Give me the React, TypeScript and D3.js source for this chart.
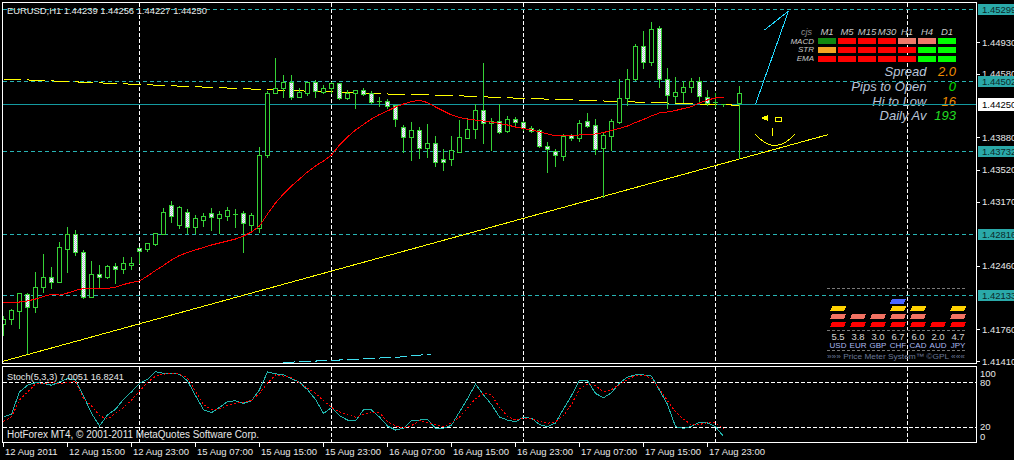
import React from "react";
import * as d3 from "d3";

// ---------- DATA ----------
// H1 candles [open, high, low, close], bar 0 = 12 Aug 2011 07:00
const candles: [number, number, number, number][] = [
  [1.41819, 1.41918, 1.41698, 1.41874],
  [1.41874, 1.41999, 1.41819, 1.41974],
  [1.41966, 1.42175, 1.41778, 1.42164],
  [1.42153, 1.42175, 1.41496, 1.42003],
  [1.42003, 1.42404, 1.41955, 1.42231],
  [1.42231, 1.42602, 1.42175, 1.42334],
  [1.42334, 1.42459, 1.42213, 1.42286],
  [1.42286, 1.42735, 1.42286, 1.42665],
  [1.4265, 1.429, 1.42396, 1.42812],
  [1.42812, 1.42867, 1.4258, 1.42617],
  [1.4261, 1.42643, 1.42103, 1.4212],
  [1.4212, 1.42525, 1.4212, 1.42371],
  [1.42371, 1.42478, 1.42231, 1.42334],
  [1.42341, 1.42481, 1.42327, 1.42459],
  [1.42459, 1.42503, 1.42275, 1.42429],
  [1.42429, 1.42569, 1.42378, 1.42489],
  [1.42473, 1.42569, 1.42423, 1.42489],
  [1.42654, 1.4268, 1.42495, 1.42628],
  [1.42643, 1.42727, 1.42628, 1.42716],
  [1.42702, 1.42823, 1.42691, 1.4282],
  [1.42812, 1.4311, 1.42807, 1.43055],
  [1.43132, 1.43187, 1.42945, 1.43011],
  [1.42911, 1.43132, 1.42878, 1.4311],
  [1.43055, 1.43099, 1.42823, 1.42886],
  [1.42886, 1.43033, 1.42826, 1.42989],
  [1.42967, 1.43055, 1.429, 1.43011],
  [1.43044, 1.4311, 1.42856, 1.43],
  [1.42989, 1.43077, 1.42826, 1.43033],
  [1.43011, 1.4312, 1.42967, 1.43077],
  [1.43016, 1.43099, 1.42893, 1.43033],
  [1.43044, 1.43077, 1.42617, 1.4293],
  [1.42911, 1.43055, 1.42856, 1.43022],
  [1.42878, 1.43783, 1.42834, 1.43684],
  [1.43684, 1.44401, 1.43665, 1.44365],
  [1.44365, 1.44762, 1.44365, 1.44426],
  [1.44426, 1.44578, 1.44327, 1.44493],
  [1.44493, 1.44578, 1.44298, 1.4432],
  [1.4432, 1.44437, 1.4432, 1.44382],
  [1.44371, 1.44493, 1.44346, 1.44486],
  [1.44486, 1.44519, 1.44327, 1.44393],
  [1.44382, 1.44464, 1.44365, 1.4442],
  [1.44426, 1.44504, 1.44365, 1.44475],
  [1.44475, 1.44475, 1.44298, 1.44309],
  [1.44309, 1.44409, 1.44298, 1.44371],
  [1.44365, 1.44401, 1.44206, 1.44401],
  [1.44401, 1.44437, 1.44346, 1.44357],
  [1.44371, 1.44401, 1.44261, 1.44265],
  [1.44274, 1.44335, 1.44224, 1.4428],
  [1.4428, 1.44309, 1.44199, 1.44228],
  [1.44235, 1.44243, 1.44004, 1.44078],
  [1.43989, 1.44023, 1.4372, 1.43879],
  [1.43879, 1.44059, 1.43629, 1.4396],
  [1.4396, 1.44004, 1.43647, 1.43764],
  [1.43764, 1.44034, 1.43665, 1.43813],
  [1.43813, 1.43904, 1.43562, 1.4361],
  [1.4364, 1.43758, 1.43518, 1.43603],
  [1.43636, 1.43904, 1.43573, 1.43739],
  [1.4372, 1.44078, 1.4372, 1.43879],
  [1.43875, 1.44106, 1.43868, 1.43967],
  [1.43967, 1.44254, 1.43875, 1.4418],
  [1.4418, 1.44713, 1.43813, 1.44034],
  [1.44034, 1.441, 1.43739, 1.44062],
  [1.44062, 1.44254, 1.43923, 1.43941],
  [1.43952, 1.44125, 1.43941, 1.44078],
  [1.44078, 1.44114, 1.44015, 1.44051],
  [1.44051, 1.4407, 1.4396, 1.43978],
  [1.43978, 1.44015, 1.43941, 1.43952],
  [1.4396, 1.43978, 1.43775, 1.43786],
  [1.43786, 1.43838, 1.435, 1.43747],
  [1.43731, 1.43758, 1.43562, 1.43684],
  [1.43676, 1.4393, 1.43629, 1.43893],
  [1.43904, 1.4393, 1.43849, 1.43868],
  [1.43868, 1.44078, 1.43842, 1.4404],
  [1.44059, 1.44162, 1.43996, 1.44007],
  [1.44011, 1.44095, 1.43695, 1.43747],
  [1.43758, 1.43941, 1.43224, 1.43904],
  [1.43897, 1.44089, 1.43739, 1.44059],
  [1.44051, 1.4453, 1.44034, 1.44309],
  [1.44309, 1.4464, 1.44235, 1.44519],
  [1.44519, 1.44916, 1.44511, 1.44886],
  [1.44886, 1.45063, 1.4464, 1.44707],
  [1.44707, 1.45162, 1.44677, 1.45071],
  [1.45082, 1.45118, 1.44437, 1.44519],
  [1.44519, 1.44658, 1.44199, 1.44346],
  [1.44338, 1.44555, 1.44272, 1.44376],
  [1.44376, 1.44511, 1.44272, 1.44431],
  [1.44431, 1.44548, 1.44382, 1.44504],
  [1.44504, 1.44555, 1.44283, 1.44338],
  [1.44327, 1.44412, 1.44235, 1.44254],
  [1.44258, 1.44382, 1.44217, 1.44269],
  [1.44239, 1.44256, 1.44227, 1.4425],
];
// projected candle drawn to the right of the last bar [bar, open, high, low, close]
const projected: [number, number, number, number, number] = [92, 1.44261, 1.44456, 1.43647, 1.44365];

// red moving average, one value per bar
const redMA = [
  1.42056, 1.42058, 1.42061, 1.42072, 1.42094, 1.42122, 1.42144, 1.42138, 1.4216, 1.42188,
  1.4221, 1.42212, 1.42212, 1.42212, 1.42223, 1.42254, 1.42276, 1.42293, 1.42348, 1.42409,
  1.42464, 1.42525, 1.42574, 1.42607, 1.42635, 1.42663, 1.4269, 1.42712, 1.42734, 1.42756,
  1.42789, 1.42834, 1.429, 1.43032, 1.43154, 1.43253, 1.43341, 1.43418, 1.43496, 1.43562,
  1.43617, 1.43683, 1.43794, 1.43882, 1.43959, 1.4402, 1.4408, 1.4413, 1.44169, 1.44213,
  1.44246, 1.44273, 1.44285, 1.44262, 1.44213, 1.44169, 1.44125, 1.44097, 1.4408, 1.44069,
  1.44058, 1.44047, 1.44031, 1.44014, 1.43992, 1.43976, 1.43959, 1.43937, 1.43915, 1.43893,
  1.43893, 1.43893, 1.43904, 1.43909, 1.43915, 1.43931, 1.43954, 1.43976, 1.44003, 1.44042,
  1.44075, 1.44114, 1.44147, 1.44158, 1.44174, 1.44196, 1.44218, 1.44257, 1.4429, 1.44312,
  1.4432,
];

// yellow dashed average, vertices [bar, price]
const yellowMA: [number, number][] = [
  [0, 1.44522], [28, 1.44422], [35, 1.44397], [42, 1.44376], [49, 1.44353], [56, 1.4434],
  [63, 1.44314], [70, 1.44294], [77, 1.44273], [84, 1.44254], [92, 1.44232],
];
// yellow trend line [bar, price]
const trendLine: [number, number][] = [[-0.125, 1.41405], [103.125, 1.43909]];
// low cyan dashed line [bar, price]
const cyanLow: [number, number][] = [[35, 1.41394], [42, 1.41421], [49.6, 1.41454], [53.4, 1.41487]];
// cyan arrow drawing [bar, price]
const cyanArrow: [number, number][] = [[94, 1.44243], [98.125, 1.45272]];
const cyanArrowHead: [number, number][] = [[95.125, 1.45062], [98.125, 1.45272]];

// horizontal levels
const levels = [1.45299, 1.44502, 1.43732, 1.42816, 1.42133];
const bid = 1.4425;
const priceTicks = [1.4493, 1.4458, 1.4388, 1.4352, 1.4317, 1.4246, 1.4176, 1.4141];

// stochastic (5,3,3)
const stochK = [
  33, 37, 67, 76, 79.5, 78.6, 76, 80.5, 85, 83.5, 62, 38, 21, 36, 43.5, 57, 67, 78.6, 84, 94.3,
  92, 92, 91, 82, 62, 43, 39, 46, 54, 55, 51.6, 55, 70, 94, 91.5, 90, 85, 80, 70, 57,
  38, 45.7, 35, 29, 28, 42.6, 42.6, 33, 21, 15.5, 17.8, 28, 29, 30, 17.8, 17.8, 22, 40, 58, 77.3,
  63, 50, 33, 29, 26.8, 32.7, 31.4, 23, 20, 25, 44, 62, 83, 82, 65, 59, 66, 79, 87, 90,
  90, 88.5, 69, 50, 20, 17.8, 20.5, 26, 25, 20, 7.0051,
];
const stochD = [
  27, 33.5, 56, 67, 77.7, 78.6, 79.5, 78.6, 79.5, 81.5, 58, 48, 35, 30, 38, 46, 56, 68, 80, 88,
  91, 92, 91, 86, 68, 50, 43, 44, 49, 52, 52.4, 56, 65, 79, 90, 88.5, 86, 79, 72, 65,
  55, 46, 40, 36, 33, 36.5, 40, 38.5, 27, 21, 18, 21.5, 28, 26, 22.5, 20.5, 25, 33, 45, 58,
  65, 63, 46, 34, 29, 31.4, 31.4, 27, 24.6, 26.8, 35, 50, 71, 77.5, 75, 67.5, 70, 77, 84, 89,
  90, 85, 71, 55, 40, 30, 22.5, 23, 25.5, 25, 16.8241,
];
const stochLevels = [100, 80, 20, 0];

const timeLabels = [
  "12 Aug 2011", "12 Aug 15:00", "12 Aug 23:00", "15 Aug 07:00", "15 Aug 15:00", "15 Aug 23:00",
  "16 Aug 07:00", "16 Aug 15:00", "16 Aug 23:00", "17 Aug 07:00", "17 Aug 15:00", "17 Aug 23:00",
];
const timeLabelBars = [0, 8, 16, 24, 32, 40, 48, 56, 64, 72, 80, 88];
const dayBreakBars = [17, 41, 65, 89, 113];

// signal panel
const timeframes = ["M1", "M5", "M15", "M30", "H1", "H4", "D1"];
const signalRows = ["MACD", "STR", "EMA"];
const signalColors = [
  ["#118811", "#ff0000", "#ff0000", "#ff0000", "#f07a6a", "#f07a6a", "#00ff00"],
  ["#f5a524", "#ff0000", "#ff0000", "#ff0000", "#ff0000", "#00ff00", "#00ff00"],
  ["#ff0000", "#ff0000", "#ff0000", "#ff0000", "#ff0000", "#00ff00", "#00ff00"],
];
const infoLabels = ["Spread", "Pips to Open", "Hi to Low", "Daily Av"];
const infoValues = ["2.0", "0", "16", "193"];
const infoColors = ["#f08c00", "#00e000", "#f08c00", "#22dd22"];

// price meter
const currencies = ["USD", "EUR", "GBP", "CHF", "CAD", "AUD", "JPY"];
const strengths = ["5.5", "3.8", "3.0", "6.7", "6.0", "2.0", "4.7"];
const meterBlocks = [3, 2, 2, 4, 3, 1, 3];
const meterRowColors = ["#ff0000", "#f27262", "#ffd200", "#4a66ff"];

const FONT = "'Liberation Sans', Arial, sans-serif";

export default function App() {
  const x = d3.scaleLinear().domain([0, 1]).range([3, 11]);
  const y = d3.scaleLinear().domain([1.4141, 1.4493]).range([361, 42]);
  const ys = d3.scaleLinear().domain([0, 100]).range([441.5, 367.5]);
  const px = (v: number) => Math.round(v) + 0.5;

  const maLine = d3.line<number>().x((_, i) => x(i) + 0.5).y((d) => y(d));
  const ptLine = d3.line<[number, number]>().x((d) => x(d[0]) + 0.5).y((d) => y(d[1]));
  const stLine = d3.line<number>().x((_, i) => x(i) + 0.5).y((d) => ys(d));

  const green = "#36d236";
  const left = 2.5, right = 976.5, mainTop = 2.5, mainBot = 363.5, stTop = 366.5, stBot = 442.5;

  const drawCandle = (i: number, o: number, h: number, l: number, c: number, key: string) => {
    const cx = x(i);
    const top = px(y(Math.max(o, c)));
    const bot = px(y(Math.min(o, c)));
    const bull = c >= o;
    return (
      <g key={key}>
        <line x1={cx + 0.5} x2={cx + 0.5} y1={px(y(h))} y2={px(y(l))} stroke={green} />
        {bot - top < 1.5 ? (
          <line x1={cx - 2} x2={cx + 3} y1={top} y2={top} stroke={green} />
        ) : (
          <rect x={cx - 1.5} y={top} width={4} height={bot - top} fill={bull ? "#000" : "url(#dith)"} stroke={green} />
        )}
      </g>
    );
  };

  return (
    <div style={{ width: 1014, height: 460 }}>
      <style>{`body{margin:0;background:#000}`}</style>
      <svg width={1014} height={460} style={{ display: "block", background: "#000" }} shapeRendering="crispEdges">
        <defs>
          <pattern id="dith" width="2" height="2" patternUnits="userSpaceOnUse">
            <rect width="2" height="2" fill="#ffffff" />
            <rect width="1" height="1" fill="#b4c0d4" />
            <rect x="1" y="1" width="1" height="1" fill="#b4c0d4" />
          </pattern>
          <clipPath id="mainClip">
            <rect x={3} y={3} width={973} height={360} />
          </clipPath>
          <clipPath id="stClip">
            <rect x={3} y={367} width={973} height={75} />
          </clipPath>
        </defs>
        <rect width={1014} height={460} fill="#000" />

        {/* grid */}
        {dayBreakBars.map((b) => (
          <g key={"g" + b}>
            <line x1={x(b) + 0.5} x2={x(b) + 0.5} y1={3} y2={363} stroke="#fff" strokeDasharray="4 2" />
            <line x1={x(b) + 0.5} x2={x(b) + 0.5} y1={367} y2={442} stroke="#fff" strokeDasharray="4 2" />
          </g>
        ))}

        {/* signal panel */}
        <g fontFamily={FONT} fontStyle="italic">
          <text x={801} y={32} fontSize={9} fill="#8a8a8a" dominantBaseline="central">cjs</text>
          {timeframes.map((t, k) => (
            <text key={t} x={827 + 20 * k} y={31.7} fontSize={9.5} fill="#c8c8c8" textAnchor="middle" dominantBaseline="central">{t}</text>
          ))}
          {signalRows.map((r, j) => (
            <g key={r}>
              <text x={814} y={41 + 8.8 * j} fontSize={8} fill="#c8c8c8" textAnchor="end" dominantBaseline="central">{r}</text>
              {signalColors[j].map((c, k) => (
                <rect key={k} x={818 + 20 * k} y={38 + 8.8 * j} width={18} height={6} fill={c} />
              ))}
            </g>
          ))}
          {infoLabels.map((t, j) => (
            <g key={t}>
              <text x={926.5} y={71.7 + 14.7 * j} fontSize={13} fill="#b8c4d8" textAnchor="end" dominantBaseline="central">{t}</text>
              <text x={956} y={71.7 + 14.7 * j} fontSize={13} fill={infoColors[j]} textAnchor="end" dominantBaseline="central">{infoValues[j]}</text>
            </g>
          ))}
        </g>

        {/* price meter */}
        <g fontFamily={FONT}>
          {[288.5, 330.5, 350.5].map((yy) => (
            <line key={yy} x1={827} x2={967} y1={yy} y2={yy} stroke="#7a7a7a" strokeDasharray="3 2" />
          ))}
          {currencies.map((cur, k) => {
            const bx = 830 + 20 * k;
            return (
              <g key={cur}>
                {d3.range(meterBlocks[k]).map((r) => {
                  const by = 322 - 7.8 * r;
                  return (
                    <polygon key={r} points={`${bx + 2},${by} ${bx + 16},${by} ${bx + 14},${by + 5} ${bx},${by + 5}`} fill={meterRowColors[r]} />
                  );
                })}
                <text x={bx + 8} y={336.5} fontSize={9.5} fill="#d4d4d4" textAnchor="middle" dominantBaseline="central">{strengths[k]}</text>
                <text x={bx + 8} y={345} fontSize={8} fill="#aab8f0" textAnchor="middle" dominantBaseline="central">{cur}</text>
              </g>
            );
          })}
          <text x={827} y={356.5} fontSize={8} fill="#6a7898" dominantBaseline="central" textLength={138} lengthAdjust="spacingAndGlyphs">»»» Price Meter System™ ©GPL «««</text>
        </g>

        {/* levels */}
        <g clipPath="url(#mainClip)">
          {levels.map((l) => (
            <line key={l} x1={3} x2={976} y1={px(y(l))} y2={px(y(l))} stroke="#28b4b4" strokeDasharray="4 3" />
          ))}
          <line x1={3} x2={976} y1={px(y(bid))} y2={px(y(bid))} stroke="#149aa0" />

          {/* trend line */}
          <path d={ptLine(trendLine) || ""} stroke="#ffff00" fill="none" />
          {/* yellow dashed MA */}
          <path d={ptLine(yellowMA) || ""} stroke="#ffff00" fill="none" strokeDasharray="18 6" />
          {/* low cyan line */}
          <path d={ptLine(cyanLow) || ""} stroke="#40e0f0" fill="none" strokeDasharray="12 4" />

          {/* candles */}
          {candles.map((d, i) => drawCandle(i, d[0], d[1], d[2], d[3], "c" + i))}
          {drawCandle(projected[0], projected[1], projected[2], projected[3], projected[4], "proj")}

          {/* red MA */}
          <path d={maLine(redMA) || ""} stroke="#ff0000" fill="none" />

          {/* cyan arrow */}
          <path d={ptLine(cyanArrow) || ""} stroke="#22d8ff" fill="none" />
          <path d={ptLine(cyanArrowHead) || ""} stroke="#22d8ff" fill="none" />

          {/* smiley */}
          <g stroke="#ffff00" fill="none">
            <path d="M762,118 L767,116 L767,120 Z" fill="#ffff00" />
            <rect x={775.5} y={117.5} width={6} height={4} />
            <line x1={772.5} x2={772.5} y1={128} y2={136} />
            <path d="M755,134 Q775,157 795,134" />
          </g>
        </g>

        {/* stochastic */}
        <g clipPath="url(#stClip)">
          {[80, 20].map((l) => (
            <line key={l} x1={3} x2={976} y1={px(ys(l))} y2={px(ys(l))} stroke="#fff" strokeDasharray="4 2" />
          ))}
          <path d={stLine(stochK) || ""} stroke="#20b2aa" fill="none" />
          <path d={stLine(stochD) || ""} stroke="#ff0000" fill="none" strokeDasharray="2 2" />
        </g>

        {/* frames */}
        <rect x={left} y={mainTop} width={right - left} height={mainBot - mainTop} fill="none" stroke="#fff" />
        <rect x={left} y={stTop} width={right - left} height={stBot - stTop} fill="none" stroke="#fff" />

        {/* texts */}
        <g fontFamily={FONT} fill="#e8e8e8">
          <text x={7} y={10.5} fontSize={9.5} dominantBaseline="central" textLength={200} lengthAdjust="spacingAndGlyphs">EURUSD,H1  1.44239 1.44256 1.44227 1.44250</text>
          <text x={7} y={376} fontSize={9.5} dominantBaseline="central" textLength={117} lengthAdjust="spacingAndGlyphs">Stoch(5,3,3) 7.0051 16.8241</text>
          <text x={7} y={434.5} fontSize={10} dominantBaseline="central" textLength={252} lengthAdjust="spacingAndGlyphs">HotForex MT4, © 2001-2011 MetaQuotes Software Corp.</text>

          {/* price axis */}
          {priceTicks.map((p) => (
            <g key={p}>
              <line x1={977} x2={980} y1={px(y(p))} y2={px(y(p))} stroke="#fff" />
              <text x={982} y={y(p)} fontSize={9.5} dominantBaseline="central">{p.toFixed(5)}</text>
            </g>
          ))}
          {levels.map((l) => (
            <g key={"lb" + l}>
              <rect x={978} y={Math.round(y(l)) - 5} width={36} height={11} fill="#2aa9a9" />
              <text x={982} y={y(l) + 0.5} fontSize={9.5} fill="#0c2a2a" dominantBaseline="central">{l.toFixed(5)}</text>
            </g>
          ))}
          <rect x={978} y={Math.round(y(bid)) - 6} width={36} height={13} fill="#ffffff" />
          <text x={982} y={y(bid) + 0.5} fontSize={9.5} fill="#000" dominantBaseline="central">{bid.toFixed(5)}</text>

          {/* stoch axis */}
          {stochLevels.map((l) => {
            const yy = l === 100 ? ys(100) + 6 : l === 0 ? ys(0) - 5 : ys(l);
            return (
              <text key={l} x={980} y={yy} fontSize={9.5} dominantBaseline="central">{l}</text>
            );
          })}

          {/* time axis */}
          {timeLabelBars.map((b, k) => (
            <g key={b}>
              <line x1={x(b) + 0.5} x2={x(b) + 0.5} y1={443} y2={447} stroke="#fff" />
              <text x={x(b) + 2} y={451.5} fontSize={9.5} dominantBaseline="central">{timeLabels[k]}</text>
            </g>
          ))}
        </g>
      </svg>
    </div>
  );
}
